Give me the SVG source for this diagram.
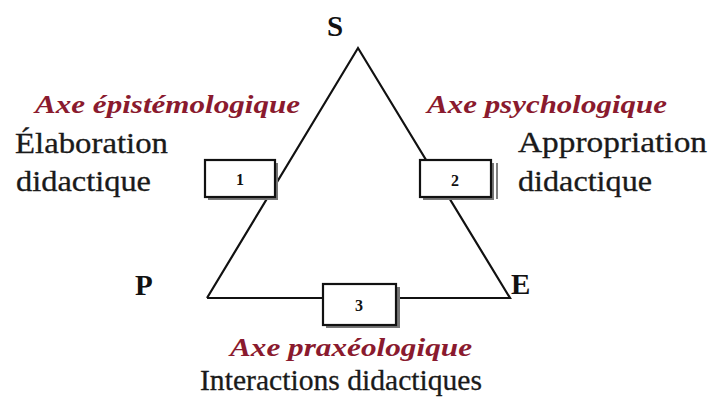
<svg xmlns="http://www.w3.org/2000/svg" width="710" height="397" viewBox="0 0 710 397">
<style>
.lbl{font-family:"Liberation Serif","Times New Roman",serif;font-size:30px;fill:#1a1a1a;stroke:#1a1a1a;stroke-width:0.3}
.axe{font-family:"Liberation Serif","Times New Roman",serif;font-size:25px;font-style:italic;font-weight:bold;fill:#8a1a2e}
.v{font-family:"Liberation Serif","Times New Roman",serif;font-size:29px;font-weight:bold;fill:#111}
.box{fill:#fff;stroke:#111;stroke-width:2.2}
.sh{fill:#777}
.num{font-family:"Liberation Serif","Times New Roman",serif;font-weight:bold;font-size:16px;fill:#111;text-anchor:middle}
.edge{stroke:#111;stroke-width:2.2;fill:none}
</style>
<rect width="710" height="397" fill="#fff"/>
<g id="connectors">
<polyline class="edge" points="207,298 358,48 510,298 207,298"/>
</g>
<g id="S"><text class="v" x="327" y="36">S</text></g>
<g id="P"><text class="v" x="135" y="295">P</text></g>
<g id="E"><text class="v" x="511" y="294">E</text></g>
<g id="box1">
<rect class="sh" x="208" y="163" width="70" height="37"/>
<rect class="box" x="205" y="160" width="70" height="37"/>
<text class="num" x="240" y="185">1</text>
</g>
<g id="box2">
<rect class="sh" x="423" y="163" width="71" height="37"/>
<line x1="497" y1="163" x2="497" y2="199" stroke="#555" stroke-width="1.5"/>
<rect class="box" x="420" y="160" width="71" height="37"/>
<text class="num" x="455" y="186">2</text>
</g>
<g id="box3">
<rect class="sh" x="326" y="287" width="74" height="41"/>
<rect class="box" x="323" y="284" width="73" height="41"/>
<text class="num" x="359" y="311">3</text>
</g>
<g id="axe1">
<text class="axe" x="35" y="113" textLength="265" lengthAdjust="spacingAndGlyphs">Axe épistémologique</text>
<text class="lbl" x="15" y="153" textLength="153" lengthAdjust="spacingAndGlyphs">Élaboration</text>
<text class="lbl" x="16" y="191" textLength="135" lengthAdjust="spacingAndGlyphs">didactique</text>
</g>
<g id="axe2">
<text class="axe" x="427" y="113" textLength="240" lengthAdjust="spacingAndGlyphs">Axe psychologique</text>
<text class="lbl" x="518" y="152" textLength="189" lengthAdjust="spacingAndGlyphs">Appropriation</text>
<text class="lbl" x="518" y="191" textLength="134" lengthAdjust="spacingAndGlyphs">didactique</text>
</g>
<g id="axe3">
<text class="axe" x="230" y="356" textLength="242" lengthAdjust="spacingAndGlyphs">Axe praxéologique</text>
<text class="lbl" x="200" y="390" textLength="282" lengthAdjust="spacingAndGlyphs">Interactions didactiques</text>
</g>
</svg>
